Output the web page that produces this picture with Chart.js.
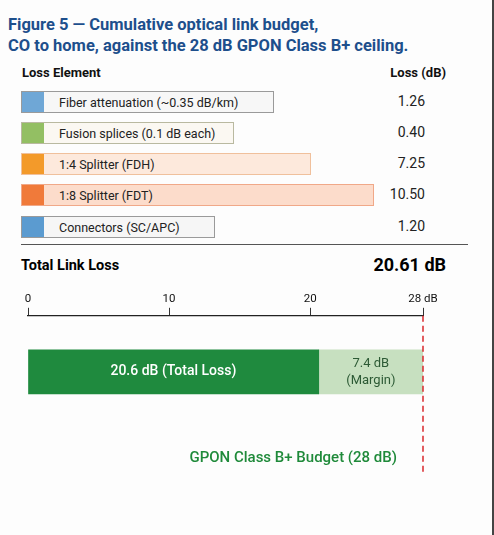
<!DOCTYPE html>
<html><head><meta charset="utf-8">
<script src="https://cdn.jsdelivr.net/npm/chart.js@4"></script>
<style>
body{margin:0;background:#fff;font-family:Roboto,"Noto Sans",sans-serif;}
#page{position:relative;width:494px;height:535px;overflow:hidden;background:#fdfdfd;border-right:2px solid #444;box-sizing:border-box}
h1{position:absolute;left:8px;top:14px;margin:0;font-size:16.5px;line-height:21px;color:#1d4f8c;font-weight:700;}
.hdr{position:absolute;top:65px;font-size:13px;font-weight:700;color:#111}
.row{position:absolute;left:21px;height:22px;display:flex;align-items:center;border:1px solid #999;box-sizing:border-box;font-size:12.5px;color:#222}
.sw{width:22px;height:100%;margin-right:15px}
.val{position:absolute;right:67px;font-size:14px;color:#222}
#sep{position:absolute;left:21px;width:447px;top:244px;border-top:1px solid #555}
#tot{position:absolute;left:21px;top:257px;font-size:14.5px;font-weight:700}
#totv{position:absolute;right:46px;top:254px;font-size:18px;font-weight:700}
#cw{position:absolute;left:0;top:290px;width:494px;height:200px}
</style></head><body>
<div id="page">
<h1>Figure 5 — Cumulative optical link budget,<br>CO to home, against the 28 dB GPON Class B+ ceiling.</h1>
<div class="hdr" style="left:22px">Loss Element</div>
<div class="hdr" style="right:46px">Loss (dB)</div>
<div id="rows"></div>
<div id="sep"></div>
<div id="tot">Total Link Loss</div>
<div id="totv"></div>
<div id="cw"><canvas id="c"></canvas></div>
</div>
<script>
const elements=["Fiber attenuation (~0.35 dB/km)","Fusion splices (0.1 dB each)","1:4 Splitter (FDH)","1:8 Splitter (FDT)","Connectors (SC/APC)"];
const losses=[1.26,0.40,7.25,10.50,1.20];
const swatch=["#6fa7d6","#93bf63","#f39a2a","#f07a3a","#5b9bd0"];
const boxFill=["#f7f7f7","#fbf8f2","#fde9dc","#fcdccb","#f6f6f6"];
const boxBorder=["#9a9a9a","#b9b9a0","#f0c09c","#f0a888","#9a9a9a"];
const budget=28;
const axisTicks=[0,10,20,28];
const total=losses.reduce((a,b)=>a+b,0);
const margin=budget-total;

const rows=document.getElementById('rows');
const ys=[91,122,153,184,216];
elements.forEach((e,i)=>{
  const d=document.createElement('div');d.className='row';d.style.top=ys[i]+'px';
  d.style.background=boxFill[i];d.style.borderColor=boxBorder[i];
  d.style.paddingRight=(10+20*losses[i])+'px';
  d.innerHTML='<div class="sw" style="background:'+swatch[i]+'"></div>'+e;
  rows.appendChild(d);
  const v=document.createElement('div');v.className='val';v.style.top=(ys[i]+2)+'px';v.textContent=losses[i].toFixed(2);
  rows.appendChild(v);
});
document.getElementById('totv').textContent=total.toFixed(2)+' dB';

const extras={id:'extras',afterDatasetsDraw(ch){
  const c=ch.ctx,x=ch.scales.x;const px=x.getPixelForValue(budget);
  c.save();c.strokeStyle='#d9262b';c.lineWidth=1.5;c.setLineDash([6,4]);
  c.beginPath();c.moveTo(px,ch.chartArea.top);c.lineTo(px,182);c.stroke();c.setLineDash([]);
  const m0=ch.getDatasetMeta(0).data[0],m1=ch.getDatasetMeta(1).data[0];
  c.textAlign='center';c.textBaseline='middle';
  c.fillStyle='#fff';c.font='500 14px Roboto';
  c.fillText(total.toFixed(1)+' dB (Total Loss)',(x.left+m0.x)/2,m0.y);
  c.fillStyle='#2d5a35';c.font='13px Roboto';
  c.fillText(margin.toFixed(1)+' dB',(m0.x+m1.x)/2,m1.y-8);
  c.fillText('(Margin)',(m0.x+m1.x)/2,m1.y+9);
  c.fillStyle='#1f8a3a';c.font='500 15px Roboto';c.textAlign='right';
  c.fillText('GPON Class B+ Budget ('+budget+' dB)',px-26,168);
  c.restore();
}};
new Chart(document.getElementById('c'),{type:'bar',
 data:{labels:[''],datasets:[
  {data:[total],backgroundColor:'#1f8a3e',barThickness:44,stack:'s'},
  {data:[margin],backgroundColor:'#c7e0c0',barThickness:44,stack:'s'}]},
 options:{indexAxis:'y',responsive:true,maintainAspectRatio:false,animation:false,
  layout:{padding:{left:28,right:71,top:0,bottom:62}},
  plugins:{legend:{display:false},tooltip:{enabled:false}},
  scales:{
   x:{position:'top',min:0,max:budget,stacked:true,
     afterBuildTicks:s=>{s.ticks=axisTicks.map(v=>({value:v}))},
     ticks:{color:'#111',font:{size:11.5,family:'Roboto'},padding:2,callback:v=>v===budget?v+' dB':v},
     grid:{drawOnChartArea:false,tickLength:8,color:'#333'},border:{color:'#222',width:1.2}},
   y:{stacked:true,display:false}}},
 plugins:[extras]});
</script>
</body></html>
